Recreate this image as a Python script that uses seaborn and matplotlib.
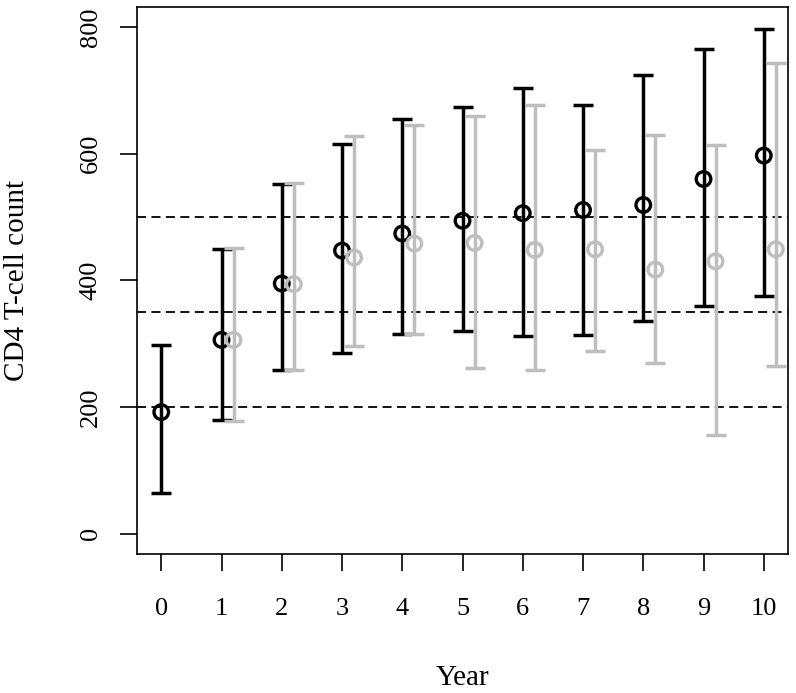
import numpy as np
import pandas as pd
import matplotlib
matplotlib.use("Agg")
import matplotlib.pyplot as plt
import seaborn as sns

# Data
years_black = [0, 1, 2, 3, 4, 5, 6, 7, 8, 9, 10]
mean_black = [192, 306, 395, 447, 474, 494, 506, 511, 519, 560, 597]
low_black = [64, 179, 259, 285, 316, 320, 312, 313, 336, 360, 375]
high_black = [298, 449, 552, 615, 654, 673, 703, 677, 724, 766, 797]

years_gray = [1, 2, 3, 4, 5, 6, 7, 8, 9, 10]
mean_gray = [306, 394, 436, 458, 459, 448, 449, 417, 430, 449]
low_gray = [178, 258, 296, 315, 262, 258, 288, 269, 156, 265]
high_gray = [451, 554, 628, 645, 660, 677, 606, 629, 613, 743]

thresholds = [200, 350, 500]
gray_offset = 0.2

sns.set_theme(style="white")
plt.rcParams['font.family'] = ['Liberation Serif', 'DejaVu Serif']
plt.rcParams['text.color'] = 'black'
plt.rcParams['axes.labelcolor'] = 'black'
plt.rcParams['xtick.color'] = 'black'
plt.rcParams['ytick.color'] = 'black'

fig = plt.figure(figsize=(7.96, 6.93), dpi=100)
ax = fig.add_axes([0.1717, 0.2006, 0.8187, 0.7897])

df_b = pd.DataFrame({"x": years_black, "y": mean_black, "lo": low_black, "hi": high_black})
df_g = pd.DataFrame({"x": np.array(years_gray) + gray_offset, "y": mean_gray,
                     "lo": low_gray, "hi": high_gray})

for t in thresholds:
    ax.axhline(t, color="black", lw=1.3, ls=(0, (5, 3)), zorder=1)

for df, col in [(df_b, "black"), (df_g, "#BEBEBE")]:
    ax.errorbar(df["x"], df["y"], yerr=[df["y"] - df["lo"], df["hi"] - df["y"]],
                fmt="none", ecolor=col, elinewidth=2.5, capsize=7.2, capthick=2.5, zorder=2)
    sns.scatterplot(data=df, x="x", y="y", ax=ax, marker="o", s=110,
                    facecolor="none", edgecolor=col, linewidth=2.4, zorder=3)

ax.set_xlim(-0.408, 10.408)
ax.set_ylim(-32, 832)
ax.set_xticks(range(0, 11))
ax.set_yticks([0, 200, 400, 600, 800])
ax.set_yticklabels(["0", "200", "400", "600", "800"], rotation=90, va="center")
ax.tick_params(axis="both", direction="out", length=12, width=1.2, color="black",
               labelsize=19, labelcolor="black", bottom=True, left=True)
ax.tick_params(axis="x", pad=20)
ax.tick_params(axis="y", pad=13)
ax.set_xlabel("Year", fontsize=21, color="black")
ax.set_ylabel("CD4 T-cell count", fontsize=21, color="black")
ax.xaxis.set_label_coords(0.5, -0.202)
ax.yaxis.set_label_coords(-0.164, 0.5)
for s in ax.spines.values():
    s.set_visible(True)
    s.set_color("black")
    s.set_linewidth(1.2)
ax.set_facecolor("white")
fig.patch.set_facecolor("white")

fig.savefig("out.png", dpi=100)
